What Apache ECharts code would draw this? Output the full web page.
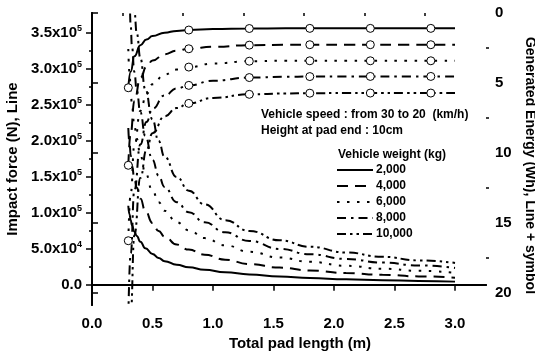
<!DOCTYPE html>
<html>
<head>
<meta charset="utf-8">
<style>
  html, body { margin: 0; padding: 0; background: #fff; }
  #chart { width: 535px; height: 355px; }
</style>
<script src="https://cdn.jsdelivr.net/npm/echarts@6/dist/echarts.min.js"></script>
</head>
<body>
<div id="chart"></div>
<script>
const FONT = '"Liberation Sans", Arial, Helvetica, sans-serif';

// Vehicle weights (kg), one curve pair per weight
const weights = ['2,000', '4,000', '6,000', '8,000', '10,000'];

// Impact force (x10^5 N) against total pad length (m)
const impactX = [0.3, 0.31, 0.32, 0.33, 0.35, 0.37, 0.4, 0.44, 0.5, 0.55, 0.6, 0.7, 0.8, 0.93, 1.1, 1.3, 1.55, 1.8, 2.1, 2.4, 2.7, 3.0];
const impact2000  = [1.10, 0.98, 0.90, 0.83, 0.74, 0.68, 0.60, 0.51, 0.43, 0.375, 0.33, 0.28, 0.245, 0.21, 0.175, 0.145, 0.115, 0.095, 0.078, 0.065, 0.055, 0.045];
const impact4000  = [2.18, 1.97, 1.80, 1.66, 1.48, 1.35, 1.20, 1.03, 0.86, 0.75, 0.67, 0.56, 0.49, 0.42, 0.35, 0.29, 0.24, 0.20, 0.165, 0.14, 0.118, 0.10];
const impact6000  = [3.28, 2.95, 2.70, 2.49, 2.22, 2.03, 1.80, 1.56, 1.31, 1.15, 1.03, 0.87, 0.76, 0.65, 0.55, 0.46, 0.38, 0.32, 0.265, 0.225, 0.195, 0.167];
const impact8000  = [4.37, 3.93, 3.60, 3.32, 2.96, 2.70, 2.40, 2.07, 1.74, 1.52, 1.36, 1.15, 1.01, 0.87, 0.73, 0.61, 0.50, 0.425, 0.36, 0.31, 0.27, 0.236];
const impact10000 = [5.46, 4.95, 4.55, 4.20, 3.80, 3.50, 3.15, 2.72, 2.30, 2.00, 1.78, 1.50, 1.31, 1.12, 0.90, 0.75, 0.62, 0.53, 0.45, 0.39, 0.34, 0.305];

// Generated energy (Wh) against total pad length (m); circles at the marked lengths
const energyX = [0.3, 0.32, 0.35, 0.4, 0.45, 0.5, 0.6, 0.7, 0.8, 1.0, 1.3, 1.6, 1.8, 2.1, 2.3, 2.6, 2.8, 3.0];
const energyMarkX = [0.3, 0.8, 1.3, 1.8, 2.3, 2.8];
const energy2000  = [5.35, 4.2, 3.1, 2.3, 1.9, 1.65, 1.41, 1.28, 1.22, 1.15, 1.11, 1.1, 1.1, 1.1, 1.1, 1.1, 1.1, 1.1];
const energy4000  = [10.9, 8.6, 6.3, 4.65, 3.85, 3.4, 2.95, 2.7, 2.56, 2.42, 2.3, 2.28, 2.27, 2.27, 2.27, 2.27, 2.27, 2.27];
const energy6000  = [16.3, 12.9, 9.5, 7.0, 5.8, 5.1, 4.4, 4.05, 3.87, 3.62, 3.45, 3.42, 3.42, 3.42, 3.42, 3.42, 3.42, 3.42];
const energy8000  = [21.8, 17.2, 12.7, 9.4, 7.8, 6.85, 5.9, 5.4, 5.18, 4.85, 4.62, 4.56, 4.55, 4.54, 4.54, 4.54, 4.54, 4.54];
const energy10000 = [27.2, 21.5, 15.9, 11.8, 9.8, 8.6, 7.4, 6.8, 6.47, 6.08, 5.82, 5.76, 5.74, 5.73, 5.73, 5.73, 5.73, 5.73];

// Axis ticks
const xTicks = [0, 0.5, 1.0, 1.5, 2.0, 2.5, 3.0];
const xMinorTicks = [0.25, 0.75, 1.25, 1.75, 2.25, 2.75];
const forceTicks = [0, 0.5, 1.0, 1.5, 2.0, 2.5, 3.0, 3.5];          // x10^5 N
const forceMinorTicks = [0.25, 0.75, 1.25, 1.75, 2.25, 2.75, 3.25];
const energyTicks = [0, 5, 10, 15, 20];
const energyMinorTicks = [2.5, 7.5, 12.5, 17.5];

const impactSets = [impact2000, impact4000, impact6000, impact8000, impact10000];
const energySets = [energy2000, energy4000, energy6000, energy8000, energy10000];

// Line patterns: solid, long dash, dots, dash-dot, dash-dot-dot
const dashes = [null, [11, 7], [2.5, 7.5], [9, 5, 2.5, 5], [9, 4, 2.5, 4, 2.5, 4]];

const X_MAX = 3.256;
const F_MIN = -0.28, F_MAX = 3.78;
const E_MAX = 20.9;

const black = '#000';
const txt = (size) => ({ fontFamily: FONT, fontWeight: 'bold', fontSize: size, color: black });

const series = [];
impactSets.forEach((vals, i) => {
  series.push({
    type: 'line',
    name: weights[i],
    xAxisIndex: 0,
    yAxisIndex: 0,
    data: impactX.map((x, j) => [x, vals[j]]),
    symbol: 'none',
    smooth: true,
    smoothMonotone: 'x',
    clip: true,
    lineStyle: { color: black, width: 2, type: dashes[i] || 'solid' },
    itemStyle: { color: black },
    emphasis: { disabled: true },
    z: 2
  });
});
energySets.forEach((vals, i) => {
  series.push({
    type: 'line',
    name: weights[i] + ' energy',
    xAxisIndex: 0,
    yAxisIndex: 1,
    data: energyX.map((x, j) => ({
      value: [x, vals[j]],
      symbol: energyMarkX.includes(x) ? 'circle' : 'none'
    })),
    symbolSize: 8,
    showSymbol: true,
    showAllSymbol: true,
    smooth: true,
    smoothMonotone: 'x',
    clip: true,
    lineStyle: { color: black, width: 2, type: dashes[i] || 'solid' },
    itemStyle: { color: '#fff', borderColor: black, borderWidth: 1 },
    emphasis: { disabled: true },
    z: 3
  });
});

const forceLabel = (v) => {
  if (v === 0) return '{b|0.0}';
  if (v < 1) return '{b|' + (v * 10).toFixed(1) + 'x10}{s|4}';
  return '{b|' + v.toFixed(1) + 'x10}{s|5}';
};

// Key: a line sample and its weight label per row
const keyLeft = 337, keyTop = 170, keyStep = 16, keyLen = 36;
const keyGraphics = [];
weights.forEach((w, i) => {
  const y = keyTop + keyStep * i;
  keyGraphics.push({
    type: 'line',
    shape: { x1: keyLeft, y1: y, x2: keyLeft + keyLen, y2: y },
    style: { stroke: black, lineWidth: 2, lineDash: dashes[i] }
  });
  keyGraphics.push({
    type: 'text',
    x: keyLeft + keyLen + 3,
    y: y,
    style: { text: w, font: 'bold 12px ' + FONT, fill: black, verticalAlign: 'middle' }
  });
});

const hidden = { show: false };

const option = {
  animation: false,
  backgroundColor: '#fff',
  grid: { left: 92, right: 49, top: 13, bottom: 50, containLabel: false, outerBoundsMode: 'none' },
  graphic: [
    { type: 'text', left: 261, top: 109, style: { text: 'Vehicle speed : from 30 to 20  (km/h)', font: 'bold 12px ' + FONT, fill: black } },
    { type: 'text', left: 261, top: 125, style: { text: 'Height at pad end : 10cm', font: 'bold 12px ' + FONT, fill: black } },
    { type: 'text', left: 338, top: 149, style: { text: 'Vehicle weight (kg)', font: 'bold 12px ' + FONT, fill: black } }
  ].concat(keyGraphics),
  xAxis: [
    {
      type: 'value', position: 'bottom', min: 0, max: X_MAX,
      name: 'Total pad length (m)', nameLocation: 'middle', nameGap: 30,
      nameTextStyle: Object.assign(txt(15), { padding: [0, 0, 0, 22] }),
      axisLine: { show: true, lineStyle: { color: black, width: 2 } },
      axisTick: { show: true, inside: false, length: 6, customValues: xTicks, lineStyle: { color: black, width: 1.5 } },
      axisLabel: Object.assign(txt(15), { customValues: xTicks, margin: 11, formatter: (v) => v.toFixed(1) }),
      splitLine: hidden
    },
    {
      type: 'value', position: 'bottom', min: 0, max: X_MAX,
      axisLine: hidden, axisLabel: hidden, splitLine: hidden,
      axisTick: { show: true, inside: false, length: 3, customValues: xMinorTicks, lineStyle: { color: black, width: 1.5 } }
    },
    {
      type: 'value', position: 'top', min: 0, max: X_MAX,
      axisLine: { show: true, lineStyle: { color: black, width: 2 } },
      axisTick: { show: true, inside: true, length: 4, customValues: xTicks, lineStyle: { color: black, width: 1.5 } },
      axisLabel: hidden, splitLine: hidden
    }
  ],
  yAxis: [
    {
      type: 'value', position: 'left', min: F_MIN, max: F_MAX,
      name: 'Impact force (N), Line', nameLocation: 'middle', nameGap: 66,
      nameTextStyle: txt(15),
      axisLine: { show: true, lineStyle: { color: black, width: 2 } },
      axisTick: { show: true, inside: false, length: 6, customValues: forceTicks, lineStyle: { color: black, width: 1.5 } },
      axisLabel: {
        customValues: forceTicks, margin: 10, formatter: forceLabel,
        rich: {
          b: Object.assign(txt(15), { lineHeight: 18 }),
          s: Object.assign(txt(9), { verticalAlign: 'top', lineHeight: 18 })
        }
      },
      splitLine: hidden
    },
    {
      type: 'value', position: 'right', min: 0, max: E_MAX, inverse: true,
      name: 'Generated Energy (Wh), Line + symbol', nameLocation: 'middle', nameGap: 27, nameRotate: -90,
      nameTextStyle: Object.assign(txt(14), { padding: [0, 0, 0, 13] }),
      axisLine: { show: true, lineStyle: { color: black, width: 2 } },
      axisTick: { show: true, inside: false, length: 6, customValues: energyTicks, lineStyle: { color: black, width: 1.5 } },
      axisLabel: Object.assign(txt(15), { customValues: energyTicks, margin: 9 }),
      splitLine: hidden
    },
    {
      type: 'value', position: 'left', min: F_MIN, max: F_MAX,
      axisLine: hidden, axisLabel: hidden, splitLine: hidden,
      axisTick: { show: true, inside: false, length: 3, customValues: forceMinorTicks, lineStyle: { color: black, width: 1.5 } }
    },
    {
      type: 'value', position: 'right', min: 0, max: E_MAX, inverse: true,
      axisLine: hidden, axisLabel: hidden, splitLine: hidden,
      axisTick: { show: true, inside: false, length: 3, customValues: energyMinorTicks, lineStyle: { color: black, width: 1.5 } }
    }
  ],
  series: series
};

const chart = echarts.init(document.getElementById('chart'), null, { renderer: 'canvas' });
chart.setOption(option);
</script>
</body>
</html>
